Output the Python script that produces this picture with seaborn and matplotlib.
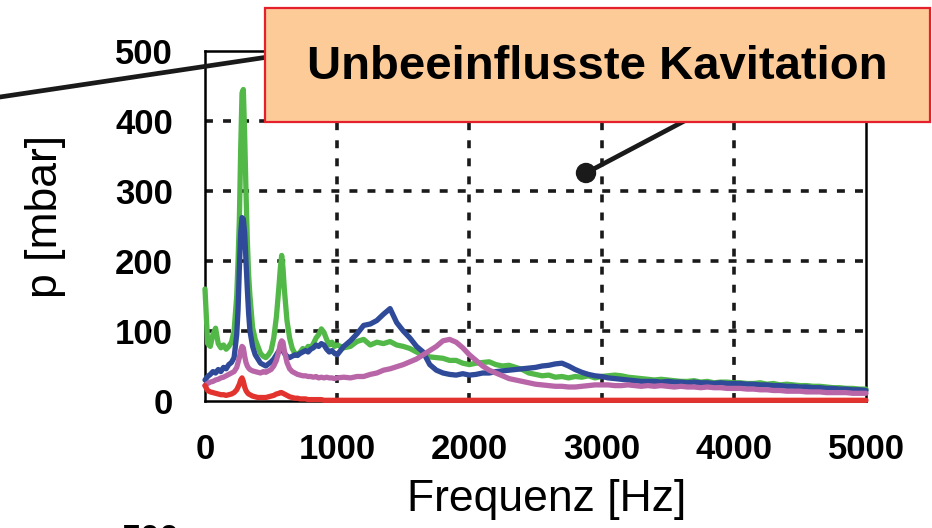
import numpy as np
import pandas as pd
import matplotlib
matplotlib.use("Agg")
import matplotlib.pyplot as plt
import seaborn as sns
from matplotlib.patches import Rectangle
from matplotlib.lines import Line2D

# ---------------- data ----------------
freq_low = [0, 20, 40, 60, 80, 100, 120, 140, 160, 180, 200, 220,
            240, 250, 260, 270, 280, 290, 300, 310, 320, 330, 340,
            360, 380, 400, 420, 440, 460, 480, 500, 520, 540,
            560, 570, 580, 590, 600,
            620, 640, 660, 680, 700, 720, 740, 760, 780, 800, 820, 840,
            860, 880, 900, 920, 940, 960, 980]
freq_high = list(range(1000, 5001, 50))
freq = freq_low + freq_high

green = [160, 82, 78, 95, 104, 82, 76, 80, 74, 78, 84, 100,
         150, 200, 260, 360, 440, 445, 380, 300, 230, 180, 150,
         105, 88, 78, 68, 64, 62, 66, 72, 90, 120,
         165, 190, 208, 190, 160,
         115, 90, 75, 68, 66, 70, 75, 72, 78, 76, 82, 90,
         95, 103, 98, 88, 80, 84, 78,
         # 1000..2000
         80, 76, 78, 85, 88, 80, 84, 82, 85, 80, 78, 75, 70, 66, 63, 62, 61, 58, 58, 54, 52,
         # 2050..3000
         54, 55, 56, 52, 50, 51, 48, 45, 40, 38, 36, 37, 34, 35, 33, 35, 34, 36, 33, 35,
         # 3050..4000
         36, 37, 36, 34, 33, 32, 31, 30, 31, 30, 29, 28, 28, 29, 27, 28, 26, 27, 27, 26,
         # 4050..5000
         26, 25, 25, 26, 24, 25, 23, 24, 23, 22, 22, 21, 21, 20, 19, 19, 18, 18, 17, 17]

blue = [30, 35, 38, 42, 40, 45, 42, 48, 46, 52, 55, 62,
        95, 130, 190, 240, 262, 260, 240, 200, 160, 125, 100,
        78, 66, 60, 54, 52, 50, 53, 56, 60, 66,
        72, 76, 75, 72, 68,
        64, 62, 64, 66, 65, 68, 70, 72, 70, 74, 76, 80,
        78, 82, 80, 74, 70, 72, 68,
        # 1000..2000
        66, 78, 86, 96, 108, 110, 115, 124, 132, 112, 100, 90, 78, 70, 52, 44, 40, 38, 37, 39, 37,
        # 2050..3000
        38, 40, 40, 42, 43, 44, 45, 46, 47, 48, 50, 51, 53, 54, 50, 45, 41, 38, 36, 35,
        # 3050..4000
        33, 32, 31, 30, 29, 28, 28, 28, 27, 28, 27, 27, 26, 27, 26, 26, 25, 26, 25, 25,
        # 4050..5000
        25, 24, 24, 23, 23, 22, 22, 21, 21, 20, 20, 19, 19, 18, 18, 17, 17, 16, 16, 15]

magenta = [22, 25, 27, 28, 30, 31, 33, 34, 36, 38, 40, 42,
           48, 55, 62, 72, 78, 76, 64, 55, 50, 47, 45,
           43, 42, 41, 40, 42, 41, 43, 45, 50, 58,
           72, 82, 86, 84, 72,
           55, 46, 42, 40, 38, 37, 36, 36, 35, 35, 34, 35,
           33, 34, 33, 34, 33, 33, 32,
           # 1000..2000
           33, 34, 33, 35, 35, 38, 40, 44, 46, 49, 52, 56, 60, 66, 72, 78, 86, 88, 84, 76, 66,
           # 2050..3000
           58, 50, 44, 40, 36, 32, 30, 28, 26, 24, 23, 22, 21, 21, 20, 20, 21, 22, 23, 23,
           # 3050..4000
           23, 22, 22, 23, 22, 21, 22, 21, 22, 21, 20, 21, 20, 20, 19, 20, 19, 19, 18, 18,
           # 4050..5000
           18, 17, 17, 16, 16, 15, 15, 14, 14, 14, 13, 13, 13, 12, 12, 12, 12, 11, 11, 11]

red = [22, 15, 13, 12, 11, 10, 9, 9, 8, 9, 10, 12,
       16, 20, 24, 30, 33, 28, 20, 15, 12, 10, 9,
       7, 6, 5, 5, 5, 5, 6, 7, 8, 10,
       11, 12, 12, 11, 10,
       8, 6, 5, 4, 4, 3, 3, 3, 2, 2, 2, 2,
       2, 2, 1, 1, 1, 1, 1,
       # 1000..2000
       1, 1, 1, 1, 1, 1, 1, 1, 1, 1, 1, 1, 1, 1, 1, 1, 1, 1, 1, 1, 1,
       # 2050..3000
       1, 1, 1, 1, 1, 1, 1, 1, 1, 1, 1, 1, 1, 1, 1, 1, 1, 1, 1, 1,
       # 3050..4000
       1, 1, 1, 1, 1, 1, 1, 1, 1, 1, 1, 1, 1, 1, 1, 1, 1, 1, 1, 1,
       # 4050..5000
       1, 1, 1, 1, 1, 1, 1, 1, 1, 1, 1, 1, 1, 1, 1, 1, 1, 1, 1, 1]

series_names = ["green", "blue", "magenta", "red"]
series_values = [green, blue, magenta, red]
colors = {"green": "#52B848", "blue": "#2E4A98", "magenta": "#B866A8", "red": "#E2332E"}

x_ticks = [0, 1000, 2000, 3000, 4000, 5000]
y_ticks = [0, 100, 200, 300, 400, 500]
title_text = "Unbeeinflusste Kavitation"
x_label = "Frequenz [Hz]"
y_label = "p [mbar]"

rows = []
for name, vals in zip(series_names, series_values):
    assert len(vals) == len(freq), (name, len(vals), len(freq))
    for f, v in zip(freq, vals):
        rows.append({"f": f, "p": v, "series": name})
df = pd.DataFrame(rows)

# ---------------- figure ----------------
sns.set_theme(style="white")
plt.rcParams["font.family"] = ["Liberation Sans", "DejaVu Sans"]
plt.rcParams["text.color"] = "black"

W, H = 932, 528
fig = plt.figure(figsize=(W / 100, H / 100), dpi=100)
ax = fig.add_axes([205 / W, 1 - 401 / H, (866 - 205) / W, (401 - 51) / H])

# grid
for yv in y_ticks[1:-1]:
    ax.axhline(yv, color="#1a1a1a", lw=2.6, ls=(0, (2.2, 2.8)), zorder=1)
for xv in x_ticks[1:-1]:
    ax.axvline(xv, color="#1a1a1a", lw=2.6, ls=(0, (2.2, 2.8)), zorder=1)

sns.lineplot(data=df, x="f", y="p", hue="series", hue_order=series_names,
             palette=colors, lw=3.8, legend=False, estimator=None,
             sort=False, ax=ax, zorder=3)
for ln in ax.lines:
    ln.set_clip_on(False)

ax.set_xlim(0, 5000)
ax.set_ylim(0, 500)
ax.set_xticks(x_ticks)
ax.set_yticks(y_ticks)
ax.set_xticklabels([str(t) for t in x_ticks], fontsize=25, fontweight="bold")
ax.set_yticklabels([str(t) for t in y_ticks], fontsize=25, fontweight="bold")
ax.tick_params(axis="both", direction="out", length=14, width=1.5,
               color="black", pad=9, labelcolor="black")
ax.set_xlabel("")
ax.set_ylabel("")
for sp in ax.spines.values():
    sp.set_visible(True)
    sp.set_color("black")
    sp.set_linewidth(1.8)

# axis labels
fig.text(547 / W, 1 - 500 / H, x_label, ha="center", va="center", fontsize=32, color="black")
fig.text(45 / W, 1 - 217 / H, y_label, ha="center", va="center", fontsize=32,
         rotation=90, color="black")

# annotation lines, dot and box (figure pixel coordinates)
def fx(px):
    return px / W

def fy(py):
    return 1 - py / H

fig.add_artist(Line2D([fx(0), fx(268)], [fy(97), fy(57)], color="#1a1a1a", lw=3.4,
                      transform=fig.transFigure, zorder=5))
fig.add_artist(Line2D([fx(586), fx(690)], [fy(173), fy(118)], color="#1a1a1a", lw=3.4,
                      transform=fig.transFigure, zorder=5))
dot = plt.Circle((586, H - 173), 9.5, color="#1a1a1a", transform=None, zorder=6)
fig.add_artist(dot)
box = Rectangle((fx(265), fy(122)), fx(930) - fx(265), fy(8) - fy(122),
                facecolor="#FDCB98", edgecolor="#E3202B", lw=1.6,
                transform=fig.transFigure, zorder=7)
fig.add_artist(box)
fig.text(fx(597), fy(67), title_text, ha="center", va="center", fontsize=34,
         fontweight="bold", color="black", zorder=8)

# cut-off label of a chart below (also cut off in the reference)
fig.text(fx(180), fy(523), "500", ha="right", va="top", fontsize=25,
         fontweight="bold", color="black")

fig.savefig("out.png", dpi=100)
